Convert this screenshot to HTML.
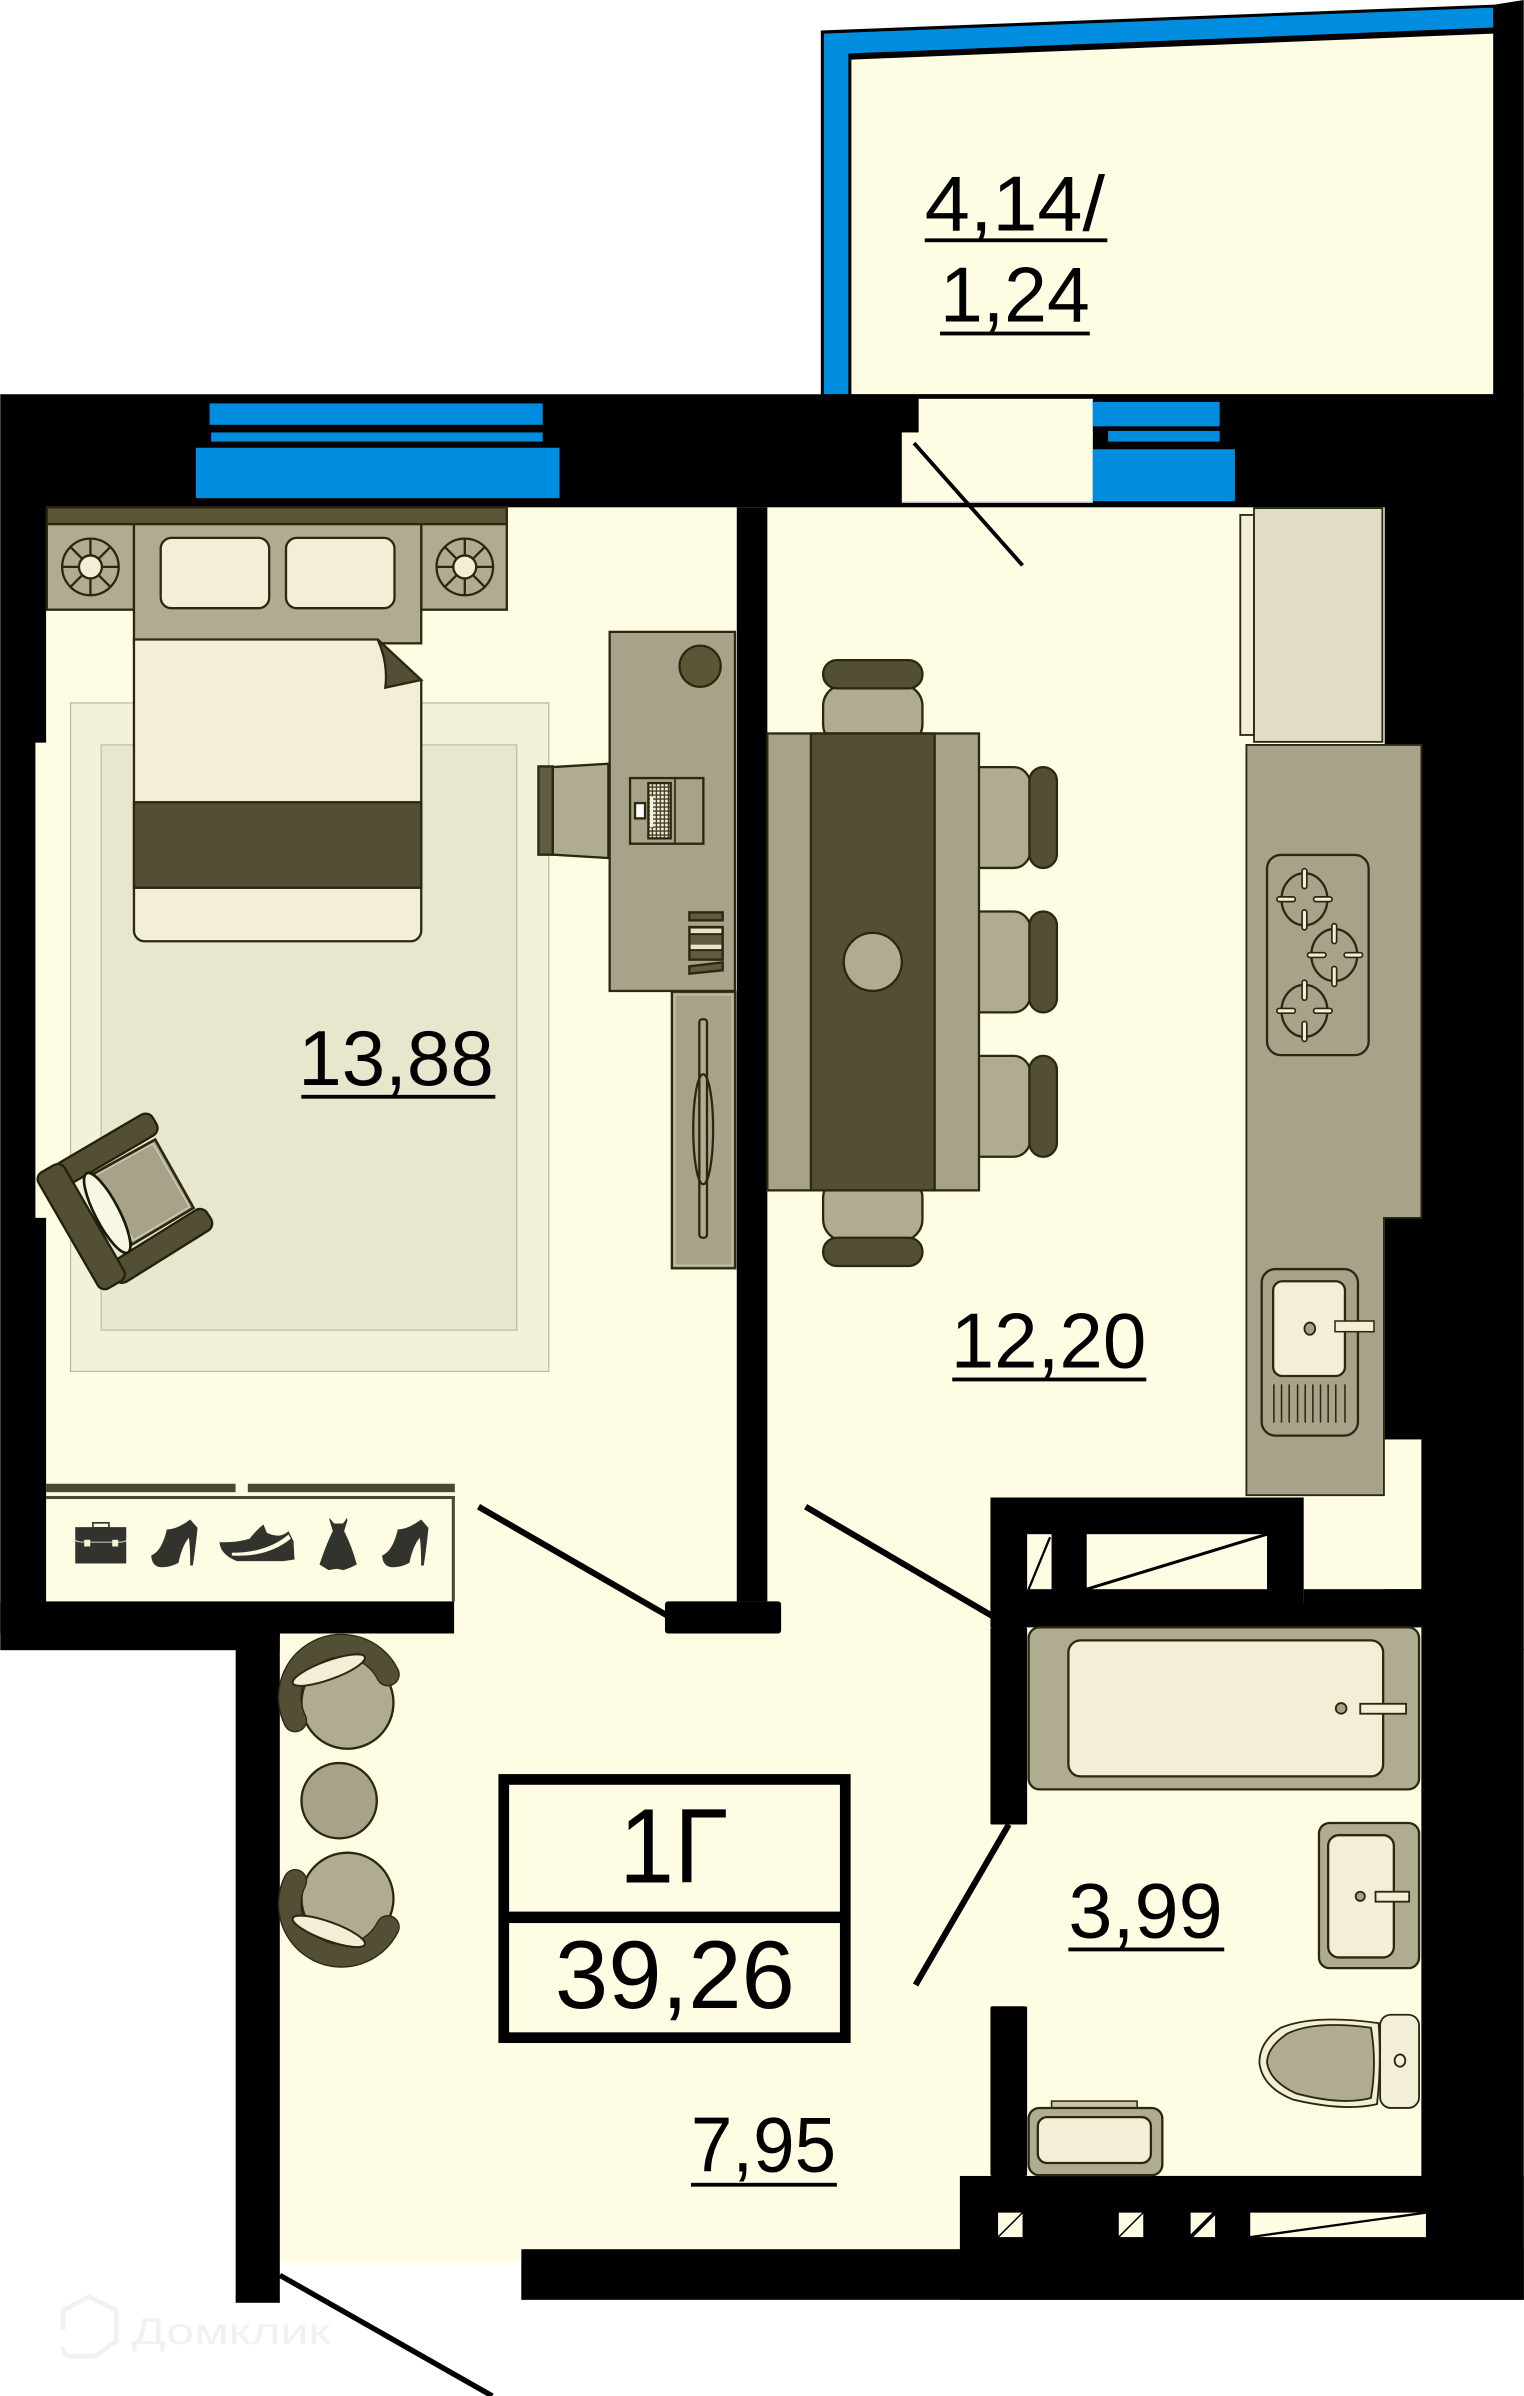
<!DOCTYPE html>
<html><head><meta charset="utf-8"><style>
html,body{margin:0;padding:0;background:#fff}
svg{display:block}
text{font-family:"Liberation Sans","DejaVu Sans",sans-serif;fill:#000}
</style></head><body>
<svg xmlns="http://www.w3.org/2000/svg" width="1524" height="2396" viewBox="0 0 997 1568">
<defs>
<pattern id="kb" width="12" height="12" patternUnits="userSpaceOnUse" x="355" y="130"><rect width="12" height="12" fill="#3a371c"/><rect x="2" y="2" width="8" height="8" fill="#f6f3df"/></pattern>
</defs>
<rect width="997" height="1568" fill="#fff"/>
<!-- balcony -->
<polygon points="537,20 978,3 997,0 997,259 537,259" fill="#000"/>
<polygon points="539,22 977,5 977,18 555,35 555,258 539,258" fill="#008de0"/>
<polygon points="557,39 977,22 977,258 557,258" fill="#fefce3"/>
<!-- black mass -->
<rect x="0" y="258" width="997" height="822" fill="#000"/>
<rect x="154" y="1079" width="29" height="428" fill="#000"/>
<rect x="341" y="1079" width="656" height="426" fill="#000"/>
<!-- floors -->
<g fill="#fefce3">
<rect x="30" y="332" width="876" height="717"/>
<rect x="23" y="486" width="8" height="311"/>
<rect x="904" y="487" width="26" height="310"/>
<rect x="904" y="942" width="26" height="98"/>
<rect x="183" y="1048" width="466" height="424"/>
<rect x="183" y="1471" width="159" height="10"/>
<rect x="670" y="1064" width="260" height="360"/>
<rect x="647" y="1194" width="26" height="119"/>
<rect x="590" y="283" width="125" height="45"/>
<rect x="601" y="261" width="114" height="23"/>
</g>
<rect x="590" y="328" width="125" height="1" fill="#fff"/>
<!-- white area left bottom -->
<rect x="0" y="1080" width="154" height="488" fill="#fff"/>
<rect x="183" y="1481" width="158" height="87" fill="#fff"/>
<!-- walls over floors -->
<g fill="#000">
<rect x="482" y="332" width="20" height="716"/>
<rect x="435" y="1048" width="76" height="21" rx="2"/>
<rect x="0" y="1048" width="297" height="21"/>
<rect x="648" y="980" width="205" height="85"/>
<rect x="853" y="1040" width="77" height="25"/>
<rect x="648" y="1065" width="24" height="129" rx="1"/>
<rect x="648" y="1313" width="24" height="111" rx="1"/>
<rect x="628" y="1424" width="369" height="81"/>
<rect x="341" y="1472" width="656" height="33"/>
</g>
<!-- blue windows -->
<g fill="#008de0">
<rect x="137" y="264" width="218" height="14"/>
<rect x="138" y="283" width="217" height="6"/>
<rect x="128" y="293" width="238" height="33"/>
<rect x="715" y="263" width="83" height="16"/>
<rect x="725" y="282" width="73" height="7"/>
<rect x="715" y="294" width="93" height="34"/>
</g>
<!-- upper and lower window-like holes -->
<g fill="#fefce3">
<rect x="672" y="1004" width="16" height="36"/>
<rect x="711" y="1004" width="118" height="36"/>
<rect x="653" y="1448" width="16" height="16"/>
<rect x="732" y="1448" width="16" height="16"/>
<rect x="779" y="1448" width="16" height="16"/>
<rect x="818" y="1448" width="115" height="16"/>
</g>
<g stroke="#000" fill="none">
<line x1="673" y1="1040" x2="687" y2="1006" stroke-width="1.5"/>
<line x1="711" y1="1040" x2="829" y2="1004" stroke-width="2"/>
<line x1="653" y1="1464" x2="669" y2="1448" stroke-width="1"/>
<line x1="732" y1="1464" x2="748" y2="1448" stroke-width="1"/>
<line x1="779" y1="1464" x2="795" y2="1448" stroke-width="2.5"/>
<line x1="818" y1="1464" x2="933" y2="1448" stroke-width="1.5"/>
</g>
<!-- door lines -->
<g stroke="#000" fill="none">
<line x1="598" y1="290" x2="669" y2="370" stroke-width="2.5"/>
<line x1="313" y1="986" x2="436" y2="1057" stroke-width="4"/>
<line x1="527" y1="986" x2="650" y2="1058" stroke-width="4"/>
<line x1="660" y1="1194" x2="599" y2="1299" stroke-width="4"/>
<line x1="183" y1="1489" x2="322" y2="1568" stroke-width="3.5"/>
</g>

<!-- rug -->
<rect x="46" y="460" width="313" height="437.500" fill="#f3f1d9" stroke="#b9b8a2" stroke-width=".8"/>
<rect x="66" y="487.500" width="272" height="383" fill="#e9e6ce" stroke="#bdbca5" stroke-width=".8"/>

<!-- bed -->
<g stroke="#2b2810" stroke-width="1.500">
<rect x="30.500" y="332" width="301" height="11" fill="#5a5636"/>
<rect x="30.500" y="343" width="57" height="56" fill="#b0ac90"/>
<rect x="275.500" y="343" width="56" height="56" fill="#b0ac90"/>
<rect x="87.500" y="343" width="188" height="78" fill="#b0ac90"/>
<rect x="105" y="352" width="71" height="46" rx="7" fill="#f3efd6"/>
<rect x="187" y="352" width="71" height="46" rx="7" fill="#f3efd6"/>
<path d="M87.500,418.500H247L275.500,445V609a7,7 0 0 1-7,7H94.500a7,7 0 0 1-7-7Z" fill="#f3efd6"/>
<rect x="87.500" y="525" width="188" height="56" fill="#534f35"/>
<path d="M247,418.500L275.500,445L252,450Q254,434 247,418.500Z" fill="#534f35"/>
</g>
<!-- lamps -->
<g fill="none" stroke="#2b2810" stroke-width="1.500">
<circle cx="59" cy="371" r="18.500" fill="#b0ac90"/>
<path d="M59,352.500V390M40.500,371H77.500M46,358L72,384M72,358L46,384"/>
<circle cx="59" cy="371" r="7.500" fill="#f3efd6"/>
</g>
<g fill="none" stroke="#2b2810" stroke-width="1.500">
<circle cx="304" cy="371" r="18.500" fill="#b0ac90"/>
<path d="M304,352.500V390M285.500,371H322.500M291,358L317,384M317,358L291,384"/>
<circle cx="304" cy="371" r="7.500" fill="#f3efd6"/>
</g>

<!-- desk -->
<rect x="398.800" y="413.500" width="82" height="235" fill="#a8a388" stroke="#2b2810" stroke-width="1.500"/>
<circle cx="458" cy="436" r="13.500" fill="#5a5636" stroke="#2b2810" stroke-width="1.500"/>
<g transform="scale(.6542) translate(530,740) scale(.33333)">
<polygon points="68,82 235,72 235,355 68,345" fill="#b0ac90" stroke="#2b2810" stroke-width="7"/>
<rect x="25" y="80" width="43" height="265" fill="#5f5c3f" stroke="#2b2810" stroke-width="7"/>
<rect x="300" y="115" width="220" height="197" fill="none" stroke="#2b2810" stroke-width="7"/>
<line x1="435" y1="115" x2="435" y2="312" stroke="#2b2810" stroke-width="5"/>
<rect x="355" y="130" width="67" height="166" fill="url(#kb)" stroke="#2b2810" stroke-width="7"/>
<rect x="360" y="170" width="9" height="92" fill="#f6f3df"/>
<rect x="315" y="190" width="30" height="46" fill="#fff" stroke="#2b2810" stroke-width="7"/>
<rect x="478" y="518" width="100" height="24" fill="#5f5c3f" stroke="#2b2810" stroke-width="7"/>
<rect x="478" y="562" width="100" height="98" fill="#5f5c3f" stroke="#2b2810" stroke-width="7"/>
<rect x="482" y="567" width="92" height="13" fill="#e8e5cc"/>
<rect x="482" y="615" width="92" height="13" fill="#e8e5cc"/>
<line x1="478" y1="584" x2="578" y2="584" stroke="#2b2810" stroke-width="5"/>
<line x1="478" y1="632" x2="578" y2="632" stroke="#2b2810" stroke-width="5"/>
<polygon points="478,680 578,668 578,692 478,702" fill="#5f5c3f" stroke="#2b2810" stroke-width="7"/>
</g>
<!-- dresser -->
<rect x="439.500" y="649" width="41.500" height="181" fill="#a8a388" stroke="#2b2810" stroke-width="1.500"/>
<rect x="441.500" y="651" width="37.500" height="177" fill="none" stroke="#c4c0a6" stroke-width="1"/>
<rect x="457.500" y="667" width="5" height="143" rx="2" fill="#b0ac90" stroke="#2b2810" stroke-width="1.500"/>
<ellipse cx="460" cy="739" rx="6.500" ry="36" fill="none" stroke="#2b2810" stroke-width="1.500"/>

<!-- dining table -->
<g stroke="#2b2810" stroke-width="1.500">
<rect x="538.500" y="448" width="65" height="40" rx="14" fill="#b0ac90"/>
<rect x="538.500" y="432" width="65" height="18.500" rx="9" fill="#534f35"/>
<rect x="538.500" y="770" width="65" height="42" rx="14" fill="#b0ac90"/>
<rect x="538.500" y="810" width="65" height="18.500" rx="9" fill="#534f35"/>
<rect x="625" y="502" width="49" height="66" rx="11" fill="#b0ac90"/>
<rect x="673.500" y="502" width="18" height="66" rx="9" fill="#534f35"/>
<rect x="625" y="596.500" width="49" height="66" rx="11" fill="#b0ac90"/>
<rect x="673.500" y="596.500" width="18" height="66" rx="9" fill="#534f35"/>
<rect x="625" y="691" width="49" height="66" rx="11" fill="#b0ac90"/>
<rect x="673.500" y="691" width="18" height="66" rx="9" fill="#534f35"/>
<rect x="502" y="480" width="138.500" height="299" fill="#a8a388"/>
<rect x="530.500" y="480" width="81" height="299" fill="#534f35"/>
<circle cx="571" cy="629.500" r="19" fill="#b0ac90"/>
</g>

<!-- fridge -->
<rect x="811.500" y="337" width="9" height="144" fill="#f3efd6" stroke="#2b2810" stroke-width="1.200"/>
<rect x="820.500" y="332.500" width="84" height="153" fill="#e2dec6" stroke="#2b2810" stroke-width="1.200"/>
<!-- counter -->
<path d="M815.500,487.500H930V797H905.500V978.500H815.500Z" fill="#a8a388" stroke="#2b2810" stroke-width="1.200"/>
<!-- hob -->
<rect x="829" y="559.500" width="66.500" height="131" rx="9" fill="#a8a388" stroke="#2b2810" stroke-width="1.500"/>
<g fill="none" stroke="#2b2810" stroke-width="1.500">
<ellipse cx="853.500" cy="588.500" rx="15" ry="17"/><ellipse cx="873" cy="625" rx="15" ry="17"/><ellipse cx="853.500" cy="661.500" rx="15" ry="17"/>
</g>
<g stroke="#2b2810" stroke-width="4.200" stroke-linecap="round"><path d="M853.500,570v10M853.500,597v10M837,588.500h9M861,588.500h9M873,606v10M873,634v10M857,625h9M881,625h9M853.500,643v10M853.500,670v10M837,661.500h9M861,661.500h9"/></g>
<g stroke="#f3efd6" stroke-width="2" stroke-linecap="round"><path d="M853.500,570v10M853.500,597v10M837,588.500h9M861,588.500h9M873,606v10M873,634v10M857,625h9M881,625h9M853.500,643v10M853.500,670v10M837,661.500h9M861,661.500h9"/></g>
<!-- kitchen sink -->
<rect x="825.500" y="830.500" width="63" height="109" rx="9" fill="#a8a388" stroke="#2b2810" stroke-width="1.500"/>
<rect x="833" y="838.500" width="47" height="62" rx="6" fill="#f3efd6" stroke="#2b2810" stroke-width="1.500"/>
<ellipse cx="857" cy="869.500" rx="3.500" ry="4" fill="#a8a388" stroke="#2b2810" stroke-width="1.200"/>
<rect x="873.500" y="864.500" width="25.500" height="7" fill="#f3efd6" stroke="#2b2810" stroke-width="1"/>
<g stroke="#2b2810" stroke-width="1"><path d="M833.500,906v25M838.500,906v25M843.500,906v25M849,906v25M854,906v25M859,906v25M864,906v25M869,906v25M874,906v25M880,906v25"/></g>

<!-- closet -->
<g fill="#4a4835">
<rect x="30" y="971" width="124" height="5.500"/>
<rect x="162" y="971" width="135.500" height="5.500"/>
<rect x="30" y="979" width="267.500" height="2"/>
<rect x="295.500" y="979" width="2" height="69"/>
</g>
<!-- icons -->
<g transform="scale(.6542) translate(50,1500) scale(.33333)" fill="#33332d">
<rect x="128" y="70" width="48" height="15" fill="none" stroke="#33332d" stroke-width="5"/>
<rect x="75" y="83" width="153" height="109"/>
<path d="M75,122 Q80,128 100,128 H205 Q225,128 228,122" fill="none" stroke="#fefce3" stroke-width="2.500"/>
<rect x="102" y="121" width="18" height="20" fill="#f5f2d8"/><rect x="186" y="121" width="18" height="20" fill="#f5f2d8"/>
<path d="M303,168 Q335,155 350,90 Q380,90 420,60 L442,85 Q438,130 428,198 L420,198 Q420,140 416,115 Q395,140 385,190 Q360,205 330,203 Q305,200 303,168Z"/>
<path d="M996,168 Q1028,155 1043,90 Q1073,90 1113,60 L1135,85 Q1131,130 1121,198 L1113,198 Q1113,140 1109,115 Q1088,140 1078,190 Q1053,205 1023,203 Q998,200 996,168Z"/>
<path d="M508,128 Q560,130 598,118 Q620,90 640,75 L650,100 Q670,110 690,108 Q705,105 715,95 L730,125 L733,180 L700,185 L560,185 Q510,165 508,128Z"/>
<path d="M545,160 Q650,160 715,105 L722,118 Q650,175 545,168Z" fill="#fefce3"/>
<path d="M838,55 L846,65 L852,72 H878 L884,65 L890,55 L892,62 L882,95 Q905,140 920,195 L900,205 L880,212 L860,208 L835,212 L808,195 Q830,130 848,95 L838,62Z"/>
</g>

<!-- armchair -->
<g transform="scale(.6542) translate(30,1100) scale(.33333)">
<polygon points="185,225 375,120 490,325 305,435" fill="#a8a388" stroke="#2b2810" stroke-width="8"/>
<polygon points="195,228 368,132 478,322 310,422" fill="none" stroke="#d0cdb6" stroke-width="4"/>
<rect x="58" y="104" width="336" height="72" rx="26" transform="rotate(-30.400 243 140)" fill="#534f35" stroke="#23200c" stroke-width="7"/>
<rect x="220" y="394" width="340" height="72" rx="26" transform="rotate(-32 407 430)" fill="#534f35" stroke="#23200c" stroke-width="7"/>
<rect x="-48" y="336" width="402" height="90" rx="24" transform="rotate(60 153 381)" fill="#534f35" stroke="#23200c" stroke-width="7"/>
<ellipse cx="231" cy="340" rx="134" ry="36" transform="rotate(62.500 231 340)" fill="#f8f6e4" stroke="#1c1a08" stroke-width="8"/>
</g>

<!-- corridor chairs -->
<g transform="scale(.6542) translate(270,1620) scale(.33333)" stroke-linecap="round">
<circle cx="232" cy="250" r="138" fill="#b0ac90" stroke="#2b2810" stroke-width="7"/>
<path d="M75,303 A150 150 0 0 1 353,165" fill="none" stroke="#2b2810" stroke-width="72"/>
<path d="M75,303 A150 150 0 0 1 353,165" fill="none" stroke="#534f35" stroke-width="64"/>
<ellipse cx="176" cy="152" rx="115" ry="28" transform="rotate(-20 176 152)" fill="#f3efd6" stroke="#2b2810" stroke-width="6"/>
<circle cx="207" cy="544" r="113" fill="#a8a388" stroke="#2b2810" stroke-width="7"/>
<circle cx="232" cy="838" r="138" fill="#b0ac90" stroke="#2b2810" stroke-width="7"/>
<path d="M75,785 A150 150 0 0 0 353,923" fill="none" stroke="#2b2810" stroke-width="72"/>
<path d="M75,785 A150 150 0 0 0 353,923" fill="none" stroke="#534f35" stroke-width="64"/>
<ellipse cx="176" cy="936" rx="115" ry="28" transform="rotate(20 176 936)" fill="#f3efd6" stroke="#2b2810" stroke-width="6"/>
</g>

<!-- bathroom fixtures -->
<rect x="673" y="1065" width="255.500" height="106" rx="7" fill="#b0ac90" stroke="#2b2810" stroke-width="1.500"/>
<rect x="699" y="1073.500" width="206" height="89" rx="8" fill="#f3efd6" stroke="#2b2810" stroke-width="1.500"/>
<circle cx="877.500" cy="1118" r="3.500" fill="#a8a388" stroke="#2b2810" stroke-width="1.200"/>
<rect x="890" y="1115" width="30" height="6.500" fill="#f3efd6" stroke="#2b2810" stroke-width="1.200"/>
<rect x="863" y="1193" width="65.500" height="95" rx="7" fill="#b0ac90" stroke="#2b2810" stroke-width="1.500"/>
<rect x="869" y="1201" width="43" height="80" rx="7" fill="#f3efd6" stroke="#2b2810" stroke-width="1.500"/>
<circle cx="890" cy="1241" r="3" fill="#a8a388" stroke="#2b2810" stroke-width="1.200"/>
<rect x="900" y="1238" width="22" height="6.500" fill="#f3efd6" stroke="#2b2810" stroke-width="1.200"/>
<path d="M902,1324 Q860,1318 838,1327 Q824,1336 824,1350 Q826,1366 846,1374 Q880,1382 901,1377 Q904,1350 902,1324Z" fill="#f3efd6" stroke="#2b2810" stroke-width="1.200"/>
<path d="M897,1327 Q860,1322 842,1331 Q829,1340 829,1350 Q831,1362 848,1370 Q878,1378 897,1373 Q901,1350 897,1327Z" fill="#b0ac90" stroke="#2b2810" stroke-width="1.200"/>
<rect x="903" y="1318.500" width="25.500" height="61" rx="7" fill="#f3efd6" stroke="#2b2810" stroke-width="1.200"/>
<ellipse cx="916" cy="1348.500" rx="3.500" ry="4" fill="#f3efd6" stroke="#2b2810" stroke-width="1.200"/>
<rect x="688" y="1375" width="56" height="5" fill="#c9c6ac" stroke="#2b2810" stroke-width="1"/>
<rect x="673" y="1379.500" width="87.500" height="44" rx="7" fill="#b0ac90" stroke="#2b2810" stroke-width="1.500"/>
<rect x="679" y="1385.500" width="74" height="30" rx="6" fill="#f3efd6" stroke="#2b2810" stroke-width="1.500"/>

<!-- plan box -->
<rect x="329.500" y="1164.500" width="223.500" height="169" fill="none" stroke="#000" stroke-width="7"/>
<rect x="330" y="1251" width="222" height="7.500" fill="#000"/>

<!-- labels -->
<text x="605" y="151" font-size="51" textLength="118" lengthAdjust="spacingAndGlyphs">4,14/</text>
<rect x="605" y="156" width="119.500" height="2.500" fill="#000"/>
<text x="615" y="210.500" font-size="51" textLength="98" lengthAdjust="spacingAndGlyphs">1,24</text>
<rect x="615" y="217" width="98" height="2.500" fill="#000"/>
<text x="195" y="710" font-size="51" textLength="128" lengthAdjust="spacingAndGlyphs">13,88</text>
<rect x="197" y="716.500" width="127" height="2.500" fill="#000"/>
<text x="622" y="895" font-size="51" textLength="128" lengthAdjust="spacingAndGlyphs">12,20</text>
<rect x="623" y="901.500" width="127" height="2.500" fill="#000"/>
<text x="699" y="1268" font-size="51" textLength="101" lengthAdjust="spacingAndGlyphs">3,99</text>
<rect x="699" y="1274.500" width="102" height="2.500" fill="#000"/>
<text x="452" y="1421" font-size="51" textLength="95" lengthAdjust="spacingAndGlyphs">7,95</text>
<rect x="452" y="1428.500" width="95.500" height="2.500" fill="#000"/>
<text x="405" y="1232" font-size="69" textLength="71" lengthAdjust="spacingAndGlyphs">1Г</text>
<text x="363" y="1314" font-size="63" textLength="157" lengthAdjust="spacingAndGlyphs">39,26</text>

<!-- watermark -->
<path d="M41,1525V1512L58,1503L76,1512V1532L62,1542H47Q41,1542 41,1536" fill="none" stroke="#f1f1f1" stroke-width="3"/>
<text x="86" y="1534" font-size="24" textLength="130" lengthAdjust="spacingAndGlyphs" style="fill:#f1f1f1">Домклик</text>
</svg>
</body></html>
